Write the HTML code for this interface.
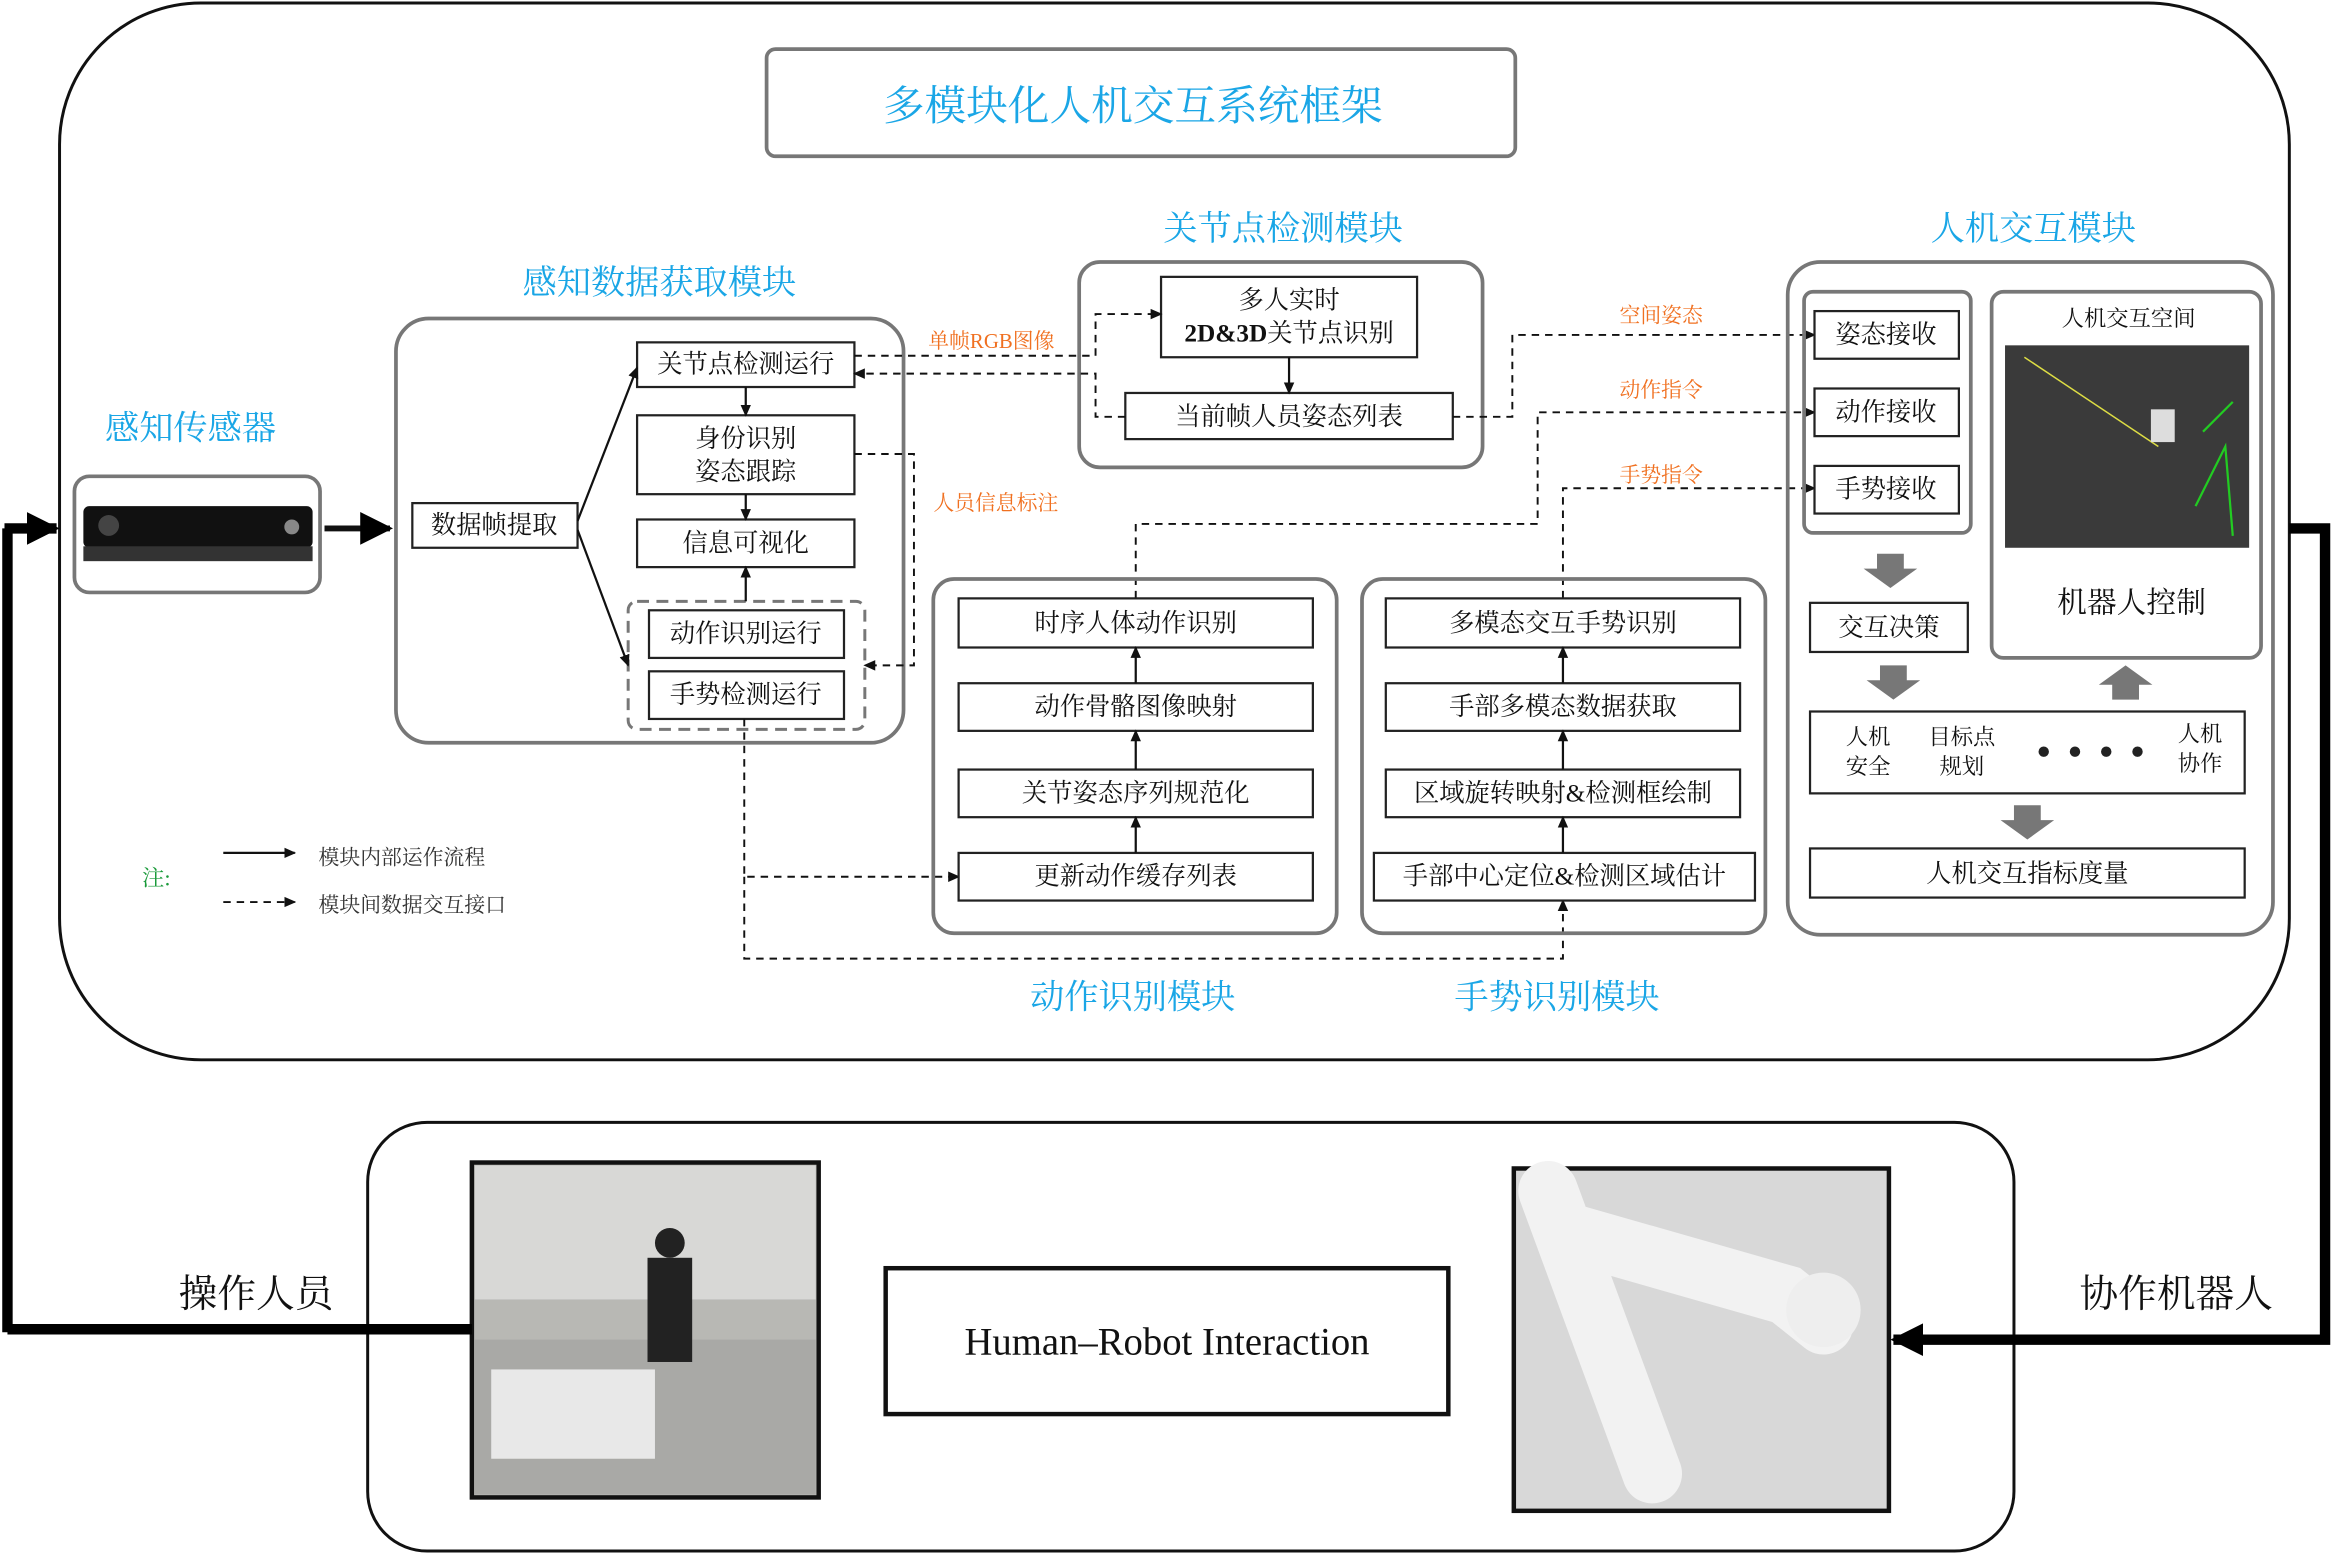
<!DOCTYPE html>
<html><head><meta charset="utf-8"><style>
html,body{margin:0;padding:0;background:#fff}
svg{display:block}
text{font-family:"Liberation Serif","Noto Serif CJK SC",serif;}
.b{fill:#fff;stroke:#222;stroke-width:1.5}
.g{fill:none;stroke:#777;stroke-width:2.5}
.t{font-size:17px;fill:#111;text-anchor:middle;dominant-baseline:central}
.c{font-size:23px;fill:#1aa6e6;text-anchor:middle;dominant-baseline:central}
.o{font-size:14px;fill:#f07020;text-anchor:middle;dominant-baseline:central}
.d{fill:none;stroke:#111;stroke-width:1.3;stroke-dasharray:5,4}
.s{fill:none;stroke:#111;stroke-width:1.5}
</style></head><body>
<svg width="2334" height="1554" viewBox="0 0 1568 1044" xmlns="http://www.w3.org/2000/svg">
<defs>
<marker id="a" markerWidth="8" markerHeight="8" refX="7" refY="4" orient="auto" markerUnits="userSpaceOnUse"><path d="M0,0.5 L8,4 L0,7.5z" fill="#111"/></marker>
<marker id="A" markerWidth="24" markerHeight="24" refX="20" refY="12" orient="auto" markerUnits="userSpaceOnUse"><path d="M0,1 L22,12 L0,23z" fill="#000"/></marker>
</defs>
<!-- outer frame -->
<rect x="40" y="2" width="1498" height="710" rx="95" fill="none" stroke="#111" stroke-width="2"/>
<rect x="515" y="33" width="503" height="72" rx="6" fill="#fff" stroke="#777" stroke-width="2.5"/>
<text x="761" y="72" class="c" style="font-size:28px">多模块化人机交互系统框架</text>

<!-- sensor -->
<text x="128" y="288" class="c">感知传感器</text>
<rect x="50" y="320" width="165" height="78" rx="10" class="g" fill="#fff"/>
<rect x="56" y="340" width="154" height="28" rx="4" fill="#111"/>
<rect x="56" y="367" width="154" height="10" fill="#333"/>
<circle cx="73" cy="353" r="7" fill="#444"/>
<circle cx="196" cy="354" r="5" fill="#888"/>
<path d="M218,355 L262,355" stroke="#111" stroke-width="4" marker-end="url(#A)"/>

<!-- perception module -->
<text x="443" y="190" class="c">感知数据获取模块</text>
<rect x="266" y="214" width="341" height="285" rx="22" class="g" fill="#fff"/>
<rect x="277" y="338" width="111" height="30" class="b"/><text x="332" y="353" class="t">数据帧提取</text>
<rect x="428" y="230" width="146" height="30" class="b"/><text x="501" y="245" class="t">关节点检测运行</text>
<rect x="428" y="279" width="146" height="53" class="b"/><text x="501" y="295" class="t">身份识别</text><text x="501" y="317" class="t">姿态跟踪</text>
<rect x="428" y="349" width="146" height="32" class="b"/><text x="501" y="365" class="t">信息可视化</text>
<rect x="422" y="404" width="159" height="86" rx="6" fill="none" stroke="#777" stroke-width="2" stroke-dasharray="8,5"/>
<rect x="436" y="410" width="131" height="32" class="b"/><text x="501" y="426" class="t">动作识别运行</text>
<rect x="436" y="451" width="131" height="32" class="b"/><text x="501" y="467" class="t">手势检测运行</text>
<path d="M388,350 L428,247" class="s" marker-end="url(#a)"/>
<path d="M388,356 L422,447" class="s" marker-end="url(#a)"/>
<path d="M501,260 L501,279" class="s" marker-end="url(#a)"/>
<path d="M501,332 L501,349" class="s" marker-end="url(#a)"/>
<path d="M501,404 L501,381" class="s" marker-end="url(#a)"/>

<!-- joint detection module -->
<text x="862" y="154" class="c">关节点检测模块</text>
<rect x="725" y="176" width="271" height="138" rx="14" class="g" fill="#fff"/>
<rect x="780" y="186" width="172" height="54" class="b"/><text x="866" y="202" class="t">多人实时</text><text x="866" y="224" class="t" style="font-weight:bold">2D&amp;3D<tspan style="font-weight:normal">关节点识别</tspan></text>
<rect x="756" y="264" width="220" height="31" class="b"/><text x="866" y="280" class="t">当前帧人员姿态列表</text>
<path d="M866,240 L866,264" class="s" marker-end="url(#a)"/>

<!-- dashed connectors -->
<path d="M574,239 L736,239 L736,211 L780,211" class="d" marker-end="url(#a)"/>
<text x="666" y="229" class="o">单帧RGB图像</text>
<path d="M756,280 L736,280 L736,251 L574,251" class="d" marker-end="url(#a)"/>
<path d="M574,305 L614,305 L614,447 L581,447" class="d" marker-end="url(#a)"/>
<text x="669" y="338" class="o">人员信息标注</text>
<path d="M976,280 L1016,280 L1016,225 L1219,225" class="d" marker-end="url(#a)"/>
<text x="1116" y="212" class="o">空间姿态</text>
<path d="M763,402 L763,352 L1033,352 L1033,277 L1219,277" class="d" marker-end="url(#a)"/>
<text x="1116" y="262" class="o">动作指令</text>
<path d="M1050,402 L1050,328 L1219,328" class="d" marker-end="url(#a)"/>
<text x="1116" y="319" class="o">手势指令</text>
<path d="M500,483 L500,589 L644,589" class="d" marker-end="url(#a)"/>
<path d="M500,589 L500,644 L1050,644 L1050,605" class="d" marker-end="url(#a)"/>

<!-- HRI module -->
<text x="1366" y="154" class="c">人机交互模块</text>
<rect x="1201" y="176" width="326" height="452" rx="22" class="g" fill="none"/>
<rect x="1212" y="196" width="112" height="162" rx="6" class="g"/>
<rect x="1219" y="209" width="97" height="32" class="b"/><text x="1267" y="225" class="t">姿态接收</text>
<rect x="1219" y="261" width="97" height="32" class="b"/><text x="1267" y="277" class="t">动作接收</text>
<rect x="1219" y="313" width="97" height="32" class="b"/><text x="1267" y="329" class="t">手势接收</text>
<rect x="1338" y="196" width="181" height="246" rx="8" class="g"/>
<text x="1430" y="214" class="t" style="font-size:15px">人机交互空间</text>
<rect x="1347" y="232" width="164" height="136" fill="#3a3a3a"/>
<path d="M1360,240 L1450,300" stroke="#dd4" stroke-width="1"/>
<path d="M1480,290 L1500,270 M1475,340 L1495,300 L1500,360" stroke="#2c2" stroke-width="1.5" fill="none"/>
<rect x="1445" y="275" width="16" height="22" fill="#ddd"/>
<text x="1432" y="405" class="t" style="font-size:20px">机器人控制</text>
<path d="M1261,372 h18 v10 h9 l-18,13 l-18,-13 h9z" fill="#777"/>
<rect x="1216" y="405" width="106" height="33" class="b"/><text x="1269" y="422" class="t">交互决策</text>
<path d="M1263,447 h18 v10 h9 l-18,13 l-18,-13 h9z" fill="#777"/>
<path d="M1419,470 h18 v-10 h9 l-18,-13 l-18,13 h9z" fill="#777"/>
<rect x="1216" y="478" width="292" height="55" class="b"/>
<text x="1255" y="495" class="t" style="font-size:15px">人机</text><text x="1255" y="515" class="t" style="font-size:15px">安全</text>
<text x="1318" y="495" class="t" style="font-size:15px">目标点</text><text x="1318" y="515" class="t" style="font-size:15px">规划</text>
<circle cx="1373" cy="505" r="3.5" fill="#222"/><circle cx="1394" cy="505" r="3.5" fill="#222"/><circle cx="1415" cy="505" r="3.5" fill="#222"/><circle cx="1436" cy="505" r="3.5" fill="#222"/>
<text x="1478" y="493" class="t" style="font-size:15px">人机</text><text x="1478" y="513" class="t" style="font-size:15px">协作</text>
<path d="M1353,541 h18 v10 h9 l-18,13 l-18,-13 h9z" fill="#777"/>
<rect x="1216" y="570" width="292" height="33" class="b"/><text x="1362" y="587" class="t">人机交互指标度量</text>

<!-- action module -->
<rect x="627" y="389" width="271" height="238" rx="14" class="g"/>
<rect x="644" y="402" width="238" height="33" class="b"/><text x="763" y="419" class="t">时序人体动作识别</text>
<rect x="644" y="459" width="238" height="32" class="b"/><text x="763" y="475" class="t">动作骨骼图像映射</text>
<rect x="644" y="517" width="238" height="32" class="b"/><text x="763" y="533" class="t">关节姿态序列规范化</text>
<rect x="644" y="573" width="238" height="32" class="b"/><text x="763" y="589" class="t">更新动作缓存列表</text>
<path d="M763,459 L763,435" class="s" marker-end="url(#a)"/>
<path d="M763,517 L763,491" class="s" marker-end="url(#a)"/>
<path d="M763,573 L763,549" class="s" marker-end="url(#a)"/>
<text x="761" y="670" class="c">动作识别模块</text>

<!-- gesture module -->
<rect x="915" y="389" width="271" height="238" rx="14" class="g"/>
<rect x="931" y="402" width="238" height="33" class="b"/><text x="1050" y="419" class="t">多模态交互手势识别</text>
<rect x="931" y="459" width="238" height="32" class="b"/><text x="1050" y="475" class="t">手部多模态数据获取</text>
<rect x="931" y="517" width="238" height="32" class="b"/><text x="1050" y="533" class="t">区域旋转映射&amp;检测框绘制</text>
<rect x="923" y="573" width="256" height="32" class="b"/><text x="1051" y="589" class="t">手部中心定位&amp;检测区域估计</text>
<path d="M1050,459 L1050,435" class="s" marker-end="url(#a)"/>
<path d="M1050,517 L1050,491" class="s" marker-end="url(#a)"/>
<path d="M1050,573 L1050,549" class="s" marker-end="url(#a)"/>
<text x="1046" y="670" class="c">手势识别模块</text>

<!-- legend -->
<text x="105" y="590" class="t" style="fill:#1a9a3a;font-size:15px">注:</text>
<path d="M150,573 L198,573" class="s" marker-end="url(#a)"/>
<text x="214" y="576" style="font-size:14px;fill:#333;dominant-baseline:central">模块内部运作流程</text>
<path d="M150,606 L198,606" class="d" marker-end="url(#a)"/>
<text x="214" y="608" style="font-size:14px;fill:#333;dominant-baseline:central">模块间数据交互接口</text>

<!-- bottom -->
<rect x="247" y="754" width="1106" height="288" rx="40" fill="none" stroke="#111" stroke-width="2"/>
<rect x="317" y="781" width="233" height="225" fill="#b8b8b4" stroke="#111" stroke-width="3"/>
<rect x="319" y="783" width="229" height="90" fill="#d8d8d6"/>
<rect x="319" y="900" width="229" height="104" fill="#a9a9a6"/>
<rect x="330" y="920" width="110" height="60" fill="#e8e8e8"/>
<rect x="435" y="845" width="30" height="70" fill="#222"/>
<circle cx="450" cy="835" r="10" fill="#222"/>
<rect x="595" y="852" width="378" height="98" fill="#fff" stroke="#111" stroke-width="3"/>
<text x="784" y="902" class="t" style="font-size:26px">Human–Robot Interaction</text>
<rect x="1017" y="785" width="252" height="230" fill="#d8d8d8" stroke="#111" stroke-width="3"/>
<path d="M1040,800 L1110,990 M1060,830 L1200,870 L1225,890" stroke="#f2f2f2" stroke-width="40" fill="none" stroke-linecap="round"/>
<circle cx="1225" cy="880" r="25" fill="#eee"/>
<path d="M5,893 L317,893 M5,895 L5,355 M3,355 L38,355" stroke="#000" stroke-width="7" fill="none" marker-end="url(#A)"/>
<path d="M1538,355 L1562,355 L1562,900 L1272,900" stroke="#000" stroke-width="7" fill="none" marker-end="url(#A)"/>
<text x="172" y="870" class="t" style="font-size:26px">操作人员</text>
<text x="1462" y="870" class="t" style="font-size:26px">协作机器人</text>
</svg>
</body></html>
